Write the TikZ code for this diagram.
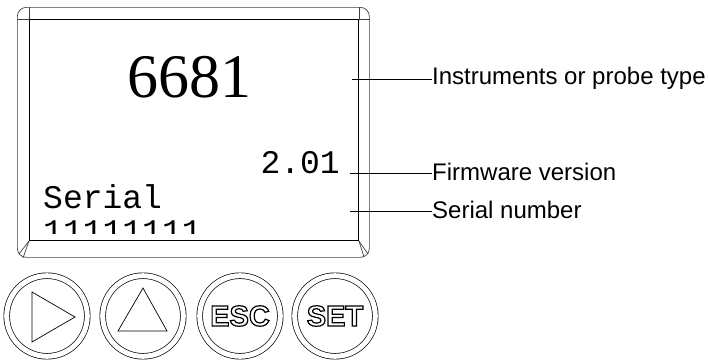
\documentclass[tikz,border=0pt]{standalone}
\usepackage{fontspec}
\setmainfont{Liberation Serif}
\setsansfont{Liberation Sans}
\setmonofont{Liberation Mono}
\usetikzlibrary{positioning}
% hollow key lettering
\newcommand{\hollow}[1]{\special{pdf:literal direct 1 Tr 1.2 w}#1\special{pdf:literal direct 0 Tr}}

\begin{document}
\begin{tikzpicture}[x=1pt, y=-1pt]
\tikzstyle{bezel} = [draw=black!75, line width=0.7pt, rounded corners=9pt, inner sep=0pt, minimum width=352pt, minimum height=250pt]
\tikzstyle{screen} = [draw, line width=1pt, inner sep=0pt, minimum width=329pt, minimum height=221pt]
\tikzstyle{bevel} = [draw=black!75, line width=0.7pt]
\tikzstyle{lcd} = [inner sep=0pt, font=\ttfamily\fontsize{33}{33}\selectfont]
\tikzstyle{btn} = [circle, draw, line width=0.7pt, double, double distance=5pt, minimum size=80.6pt, inner sep=0pt, font=\sffamily\bfseries\fontsize{29}{29}\selectfont]
\tikzstyle{callout} = [anchor=base west, inner sep=0pt, font=\sffamily\fontsize{24}{28}\selectfont]
\tikzstyle{lead} = [draw, line width=1pt]

\useasboundingbox (0,0) rectangle (708,359);

% housing and display
\node [bezel, anchor=north west] (bez) at (17,7) {};
\node [screen, anchor=north west] (scr) at (29,19) {};
\path [bevel] (scr.north west) -- (scr.north west |- bez.north);
\path [bevel] (scr.north west) -- (scr.north west -| bez.west);
\path [bevel] (scr.north east) -- (scr.north east |- bez.north);
\path [bevel] (scr.north east) -- (scr.north east -| bez.east);
\path [bevel] (scr.south west) -- ([shift={(-10,13)}]scr.south west);
\path [bevel] (scr.south west) -- ([shift={(-6,17)}]scr.south west);
\path [bevel] (scr.south east) -- ([shift={(9,13)}]scr.south east);
\path [bevel] (scr.south east) -- ([shift={(5,16)}]scr.south east);

\begin{scope}
\clip (29,19) rectangle (358,233);
\node [inner sep=0pt, anchor=base, font=\fontsize{62}{62}\selectfont] (model) at (189,97) {6681};
\node [lcd, anchor=base east] (fw) at (340,173) {2.01};
\node [lcd, anchor=base west] (sertxt) at (43,208) {Serial};
\node [lcd, anchor=base west] (sernum) at (43,242) {11111111};
\end{scope}

% callouts
\coordinate (p1) at (352,79);
\coordinate (p2) at (350,173);
\coordinate (p3) at (350,211);
\node [callout] (lbl1) at (432,84) {Instruments or probe type};
\node [callout] (lbl2) at (432,180) {Firmware version};
\node [callout] (lbl3) at (432,218) {Serial number};
\path [lead] (p1) -- (p1 -| lbl1.west);
\path [lead] (p2) -- (p2 -| lbl2.west);
\path [lead] (p3) -- (p3 -| lbl3.west);

% keys
\node [btn] (btn1) at (47,316) {};
\node [btn] (btn2) at (143,316) {};
\node [btn] (btn3) at (240,316) {\hollow{ESC}};
\node [btn] (btn4) at (335,316) {\hollow{SET}};
\draw [line width=0.7pt] ([shift={(-15,-24)}]btn1.center) -- ([shift={(-15,26)}]btn1.center) -- ([shift={(28,1)}]btn1.center) -- cycle;
\draw [line width=0.7pt] ([shift={(0,-28)}]btn2.center) -- ([shift={(-25,15)}]btn2.center) -- ([shift={(24,15)}]btn2.center) -- cycle;
\end{tikzpicture}
\end{document}
